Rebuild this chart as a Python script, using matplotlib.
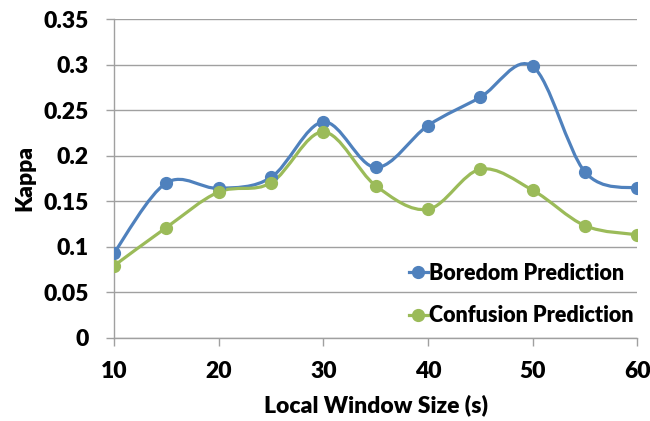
import matplotlib
matplotlib.use('Agg')
import matplotlib.pyplot as plt
from matplotlib.path import Path
from matplotlib.patches import PathPatch
from matplotlib.lines import Line2D

window = [10, 15, 20, 25, 30, 35, 40, 45, 50, 55, 60]
boredom = [0.093, 0.170, 0.164, 0.176, 0.237, 0.187, 0.233, 0.264, 0.298, 0.182, 0.164]
confusion = [0.079, 0.121, 0.160, 0.170, 0.226, 0.167, 0.141, 0.185, 0.162, 0.123, 0.113]

blue = '#4F81BD'
green = '#9BBB59'

plt.rcParams['font.family'] = ['Lato', 'DejaVu Sans']
plt.rcParams['font.weight'] = 'heavy'


def smooth_path(xs, ys):
    # Excel-like smoothed line: cubic Bezier segments through each point
    verts = [(xs[0], ys[0])]
    codes = [Path.MOVETO]
    n = len(xs)
    for i in range(n - 1):
        x0, y0 = (xs[i - 1], ys[i - 1]) if i > 0 else (xs[i], ys[i])
        x3, y3 = (xs[i + 2], ys[i + 2]) if i + 2 < n else (xs[i + 1], ys[i + 1])
        c1 = (xs[i] + (xs[i + 1] - x0) / 6, ys[i] + (ys[i + 1] - y0) / 6)
        c2 = (xs[i + 1] - (x3 - xs[i]) / 6, ys[i + 1] - (y3 - ys[i]) / 6)
        verts += [c1, c2, (xs[i + 1], ys[i + 1])]
        codes += [Path.CURVE4] * 3
    return Path(verts, codes)


fig = plt.figure(figsize=(6.5, 4.21), dpi=100)
ax = fig.add_axes([114 / 650, 1 - 337.7 / 421, (637.3 - 114) / 650, (337.7 - 19) / 421])

for ys, col in [(boredom, blue), (confusion, green)]:
    ax.add_patch(PathPatch(smooth_path(window, ys), facecolor='none', edgecolor=col,
                           lw=2.3, capstyle='round', joinstyle='round', zorder=3))
    ax.plot(window, ys, 'o', color=col, markersize=8.5, zorder=4)

ax.set_xlim(10, 60)
ax.set_ylim(0, 0.35)
ax.set_xticks([10, 20, 30, 40, 50, 60])
ax.set_yticks([0, 0.05, 0.1, 0.15, 0.2, 0.25, 0.3, 0.35])
ax.set_yticklabels(['0', '0.05', '0.1', '0.15', '0.2', '0.25', '0.3', '0.35'])
ax.grid(True, axis='y', color='#A0A0A0', lw=1)
ax.set_axisbelow(True)
for s in ['top', 'right']:
    ax.spines[s].set_visible(False)
for s in ['left', 'bottom']:
    ax.spines[s].set_color('#A0A0A0')
    ax.spines[s].set_linewidth(1)
ax.tick_params(axis='both', colors='#A0A0A0', length=6, width=1, labelcolor='black', labelsize=16.5)
ax.tick_params(axis='x', pad=10.5)
ax.tick_params(axis='y', pad=12)
ax.set_xlabel('Local Window Size (s)', fontsize=16.5, fontweight='heavy', labelpad=9)
ax.set_ylabel('Kappa', fontsize=16.5, fontweight='heavy', labelpad=6)

handles = [Line2D([], [], color=blue, lw=2.3, marker='o', markersize=8.5),
           Line2D([], [], color=green, lw=2.3, marker='o', markersize=8.5)]
ax.legend(handles, ['Boredom Prediction', 'Confusion Prediction'], loc='lower right',
          bbox_to_anchor=(1.03, -0.025), frameon=False, handlelength=0.9,
          handletextpad=0.05, labelspacing=1.0, prop={'weight': 'heavy', 'size': 15.5})

fig.savefig('out.png', dpi=100)
